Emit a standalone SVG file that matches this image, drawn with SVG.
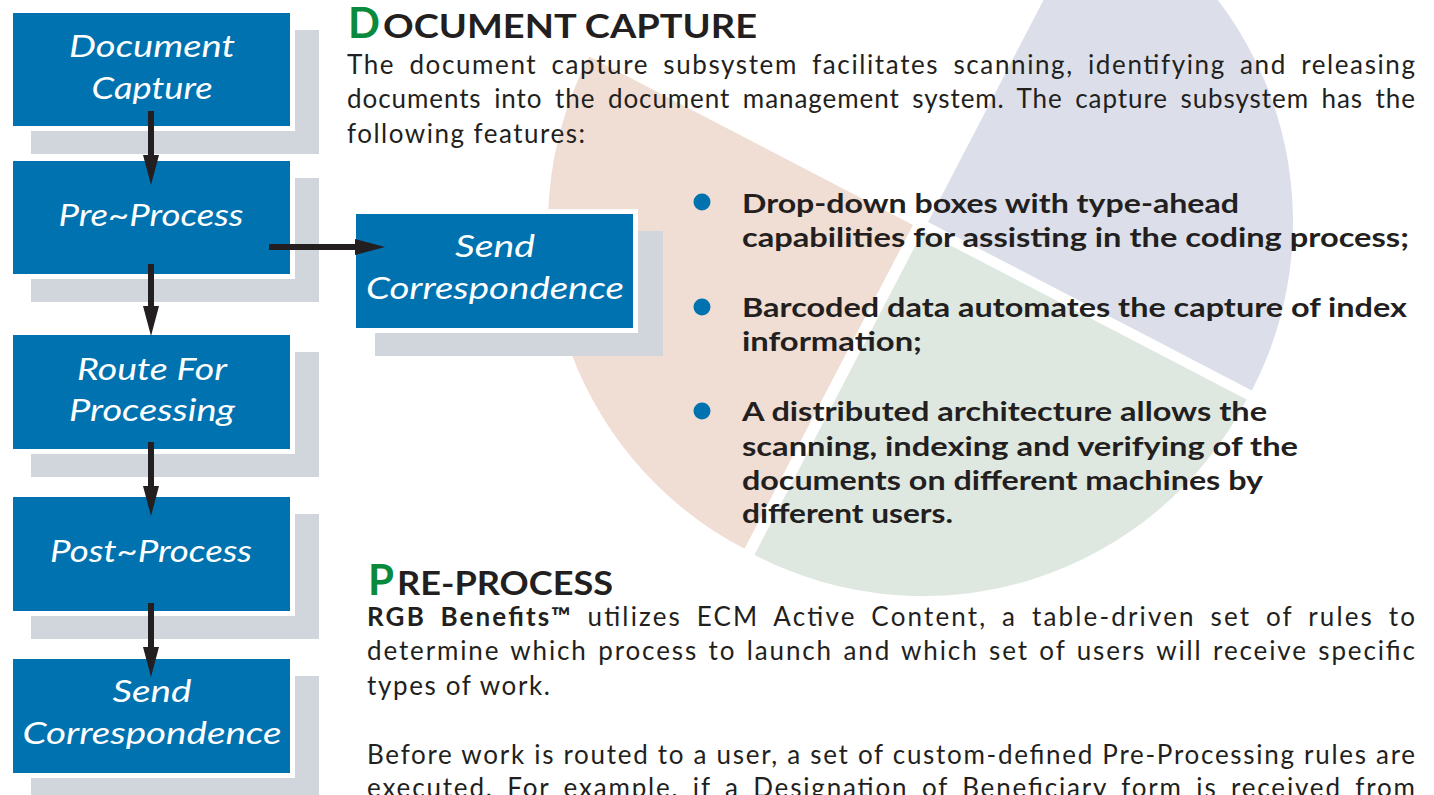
<svg xmlns="http://www.w3.org/2000/svg" width="1434" height="795" viewBox="0 0 1434 795">
  <defs>
    <style>
      .shadow { fill: #D1D5DC; }
      .halo { fill: #FFFFFF; }
      .box { fill: #0072AF; }
      .lbl { font-family: Lato, "Open Sans", "Liberation Sans", sans-serif; font-style: italic; font-size: 31px; fill: #FFFFFF; text-anchor: middle; }
      .cap { font-family: Lato, "Liberation Sans", sans-serif; font-weight: 700; font-size: 42px; fill: #0A8A3C; }
      .head { font-family: Lato, "Liberation Sans", sans-serif; font-weight: 700; font-size: 32px; fill: #231F20; }
      .body { font-family: Lato, "Liberation Sans", sans-serif; font-size: 26px; fill: #231F20; }
      .bul { font-family: Lato, "Liberation Sans", sans-serif; font-weight: 700; font-size: 27px; fill: #231F20; }
      .b { font-weight: 700; }
      .dot { fill: #0072AF; }
      .conn { stroke: #231F20; stroke-width: 6; fill: none; marker-end: url(#ah); }
    </style>
    <marker id="ah" markerUnits="userSpaceOnUse" markerWidth="32" markerHeight="18" refX="0" refY="8" orient="auto">
      <path d="M0,0 L30,8 L0,16 Z" fill="#231F20"/>
    </marker>
  </defs>

  <!-- background pie: three exploded quarter wedges -->
  <g id="pie">
    <path d="M913,225 L744.5,548.8 A365,365 0 0,1 589.2,56.5 Z" fill="#F0DDD3"/>
    <path d="M928,222 L1096.5,-101.8 A365,365 0 0,1 1251.8,390.5 Z" fill="#DCDFEA"/>
    <path d="M922.9,231.1 L1246.7,399.6 A365,365 0 0,1 754.4,554.9 Z" fill="#DFE8E0"/>
  </g>

  <!-- section: document capture -->
  <g id="section-capture">
    <text class="cap" x="348" y="38">D</text>
    <text class="head" x="383" y="38" textLength="374" lengthAdjust="spacingAndGlyphs">OCUMENT CAPTURE</text>
    <text class="body" x="347" y="74" word-spacing="6" textLength="1068" lengthAdjust="spacing">The document capture subsystem facilitates scanning, identifying and releasing</text>
    <text class="body" x="347" y="108" word-spacing="5" textLength="1068" lengthAdjust="spacing">documents into the document management system.  The capture subsystem has the</text>
    <text class="body" x="347" y="143" textLength="238" lengthAdjust="spacing">following features:</text>

    <circle class="dot" cx="702" cy="202" r="8.5"/>
    <circle class="dot" cx="702" cy="307" r="8.5"/>
    <circle class="dot" cx="702" cy="411" r="8.5"/>
    <text class="bul" x="742" y="213" textLength="497" lengthAdjust="spacingAndGlyphs">Drop-down boxes with type-ahead</text>
    <text class="bul" x="742" y="247" textLength="667" lengthAdjust="spacingAndGlyphs">capabilities for assisting in the coding process;</text>
    <text class="bul" x="742" y="317" textLength="665" lengthAdjust="spacingAndGlyphs">Barcoded data automates the capture of index</text>
    <text class="bul" x="742" y="351" textLength="180" lengthAdjust="spacingAndGlyphs">information;</text>
    <text class="bul" x="742" y="421" textLength="525" lengthAdjust="spacingAndGlyphs">A distributed architecture allows the</text>
    <text class="bul" x="742" y="456" textLength="556" lengthAdjust="spacingAndGlyphs">scanning, indexing and verifying of the</text>
    <text class="bul" x="742" y="490" textLength="521" lengthAdjust="spacingAndGlyphs">documents on different machines by</text>
    <text class="bul" x="742" y="523" textLength="211" lengthAdjust="spacingAndGlyphs">different users.</text>
  </g>

  <!-- section: pre-process -->
  <g id="section-preprocess">
    <text class="cap" x="368" y="595">P</text>
    <text class="head" x="397" y="595" textLength="216" lengthAdjust="spacingAndGlyphs">RE-PROCESS</text>
    <text class="body" x="367" y="626" word-spacing="6" textLength="1048" lengthAdjust="spacing"><tspan class="b">RGB Benefits™</tspan> utilizes ECM Active Content, a table-driven set of rules to</text>
    <text class="body" x="367" y="660" word-spacing="2" textLength="1048" lengthAdjust="spacing">determine which process to launch and which set of users will receive specific</text>
    <text class="body" x="367" y="695" textLength="183" lengthAdjust="spacing">types of work.</text>
    <text class="body" x="367" y="764" textLength="1048" lengthAdjust="spacing">Before work is routed to a user, a set of custom-defined Pre-Processing rules are</text>
    <text class="body" x="367" y="797" word-spacing="5" textLength="1048" lengthAdjust="spacing">executed.  For example,  if a Designation of Beneficiary form is received from</text>
  </g>

  <!-- process boxes -->
  <g id="node-document-capture">
    <rect class="shadow" x="31" y="30" width="288" height="124"/>
    <rect class="halo" x="8" y="8" width="287" height="123"/>
    <rect class="box" x="13" y="13" width="277" height="113"/>
    <text class="lbl" x="152" y="57" textLength="166" lengthAdjust="spacingAndGlyphs">Document</text>
    <text class="lbl" x="152" y="99" textLength="121" lengthAdjust="spacingAndGlyphs">Capture</text>
  </g>

  <g id="node-pre-process">
    <rect class="shadow" x="31" y="178" width="288" height="124"/>
    <rect class="halo" x="8" y="156" width="287" height="123"/>
    <rect class="box" x="13" y="161" width="277" height="113"/>
    <text class="lbl" x="151" y="226" textLength="185" lengthAdjust="spacingAndGlyphs">Pre~Process</text>
  </g>

  <g id="node-route-for-processing">
    <rect class="shadow" x="31" y="352" width="288" height="125"/>
    <rect class="halo" x="8" y="330" width="287" height="124"/>
    <rect class="box" x="13" y="335" width="277" height="114"/>
    <text class="lbl" x="152" y="380" textLength="150" lengthAdjust="spacingAndGlyphs">Route For</text>
    <text class="lbl" x="152" y="421" textLength="166" lengthAdjust="spacingAndGlyphs">Processing</text>
  </g>

  <g id="node-post-process">
    <rect class="shadow" x="31" y="514" width="288" height="125"/>
    <rect class="halo" x="8" y="492" width="287" height="124"/>
    <rect class="box" x="13" y="497" width="277" height="114"/>
    <text class="lbl" x="151" y="562" textLength="202" lengthAdjust="spacingAndGlyphs">Post~Process</text>
  </g>

  <g id="node-send-correspondence">
    <rect class="shadow" x="31" y="676" width="288" height="125"/>
    <rect class="halo" x="8" y="654" width="287" height="124"/>
    <rect class="box" x="13" y="659" width="277" height="114"/>
    <text class="lbl" x="152" y="702" textLength="79" lengthAdjust="spacingAndGlyphs">Send</text>
    <text class="lbl" x="152" y="744" textLength="259" lengthAdjust="spacingAndGlyphs">Correspondence</text>
  </g>

  <g id="node-send-correspondence-side">
    <rect class="shadow" x="375" y="231" width="288" height="125"/>
    <rect class="halo" x="351" y="209" width="287" height="124"/>
    <rect class="box" x="356" y="214" width="277" height="114"/>
    <text class="lbl" x="495" y="257" textLength="80" lengthAdjust="spacingAndGlyphs">Send</text>
    <text class="lbl" x="495" y="299" textLength="258" lengthAdjust="spacingAndGlyphs">Correspondence</text>
  </g>

  <!-- connectors -->
  <g id="connectors">
    <line class="conn" x1="151" y1="111" x2="151" y2="155"/>
    <line class="conn" x1="151" y1="264" x2="151" y2="306"/>
    <line class="conn" x1="151" y1="442" x2="151" y2="486"/>
    <line class="conn" x1="151" y1="603" x2="151" y2="647"/>
    <line class="conn" x1="269" y1="247" x2="355" y2="247"/>
  </g>
</svg>
